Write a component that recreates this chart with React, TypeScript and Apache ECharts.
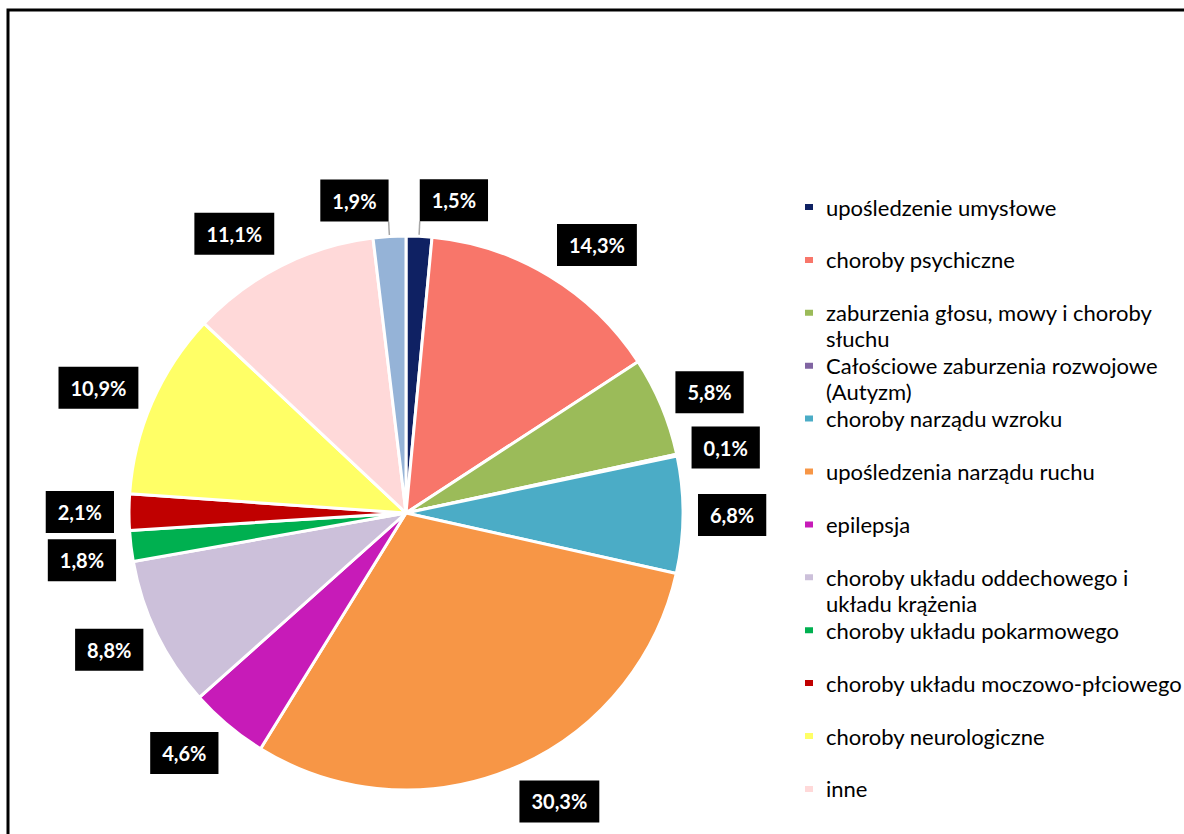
import React, { useEffect, useRef } from 'react';
import * as echarts from 'echarts';

// ---- data ----
const CATEGORIES = [
  'upośledzenie umysłowe',
  'choroby psychiczne',
  'zaburzenia głosu, mowy i choroby słuchu',
  'Całościowe zaburzenia rozwojowe (Autyzm)',
  'choroby narządu wzroku',
  'upośledzenia narządu ruchu',
  'epilepsja',
  'choroby układu oddechowego i układu krążenia',
  'choroby układu pokarmowego',
  'choroby układu moczowo-płciowego',
  'choroby neurologiczne',
  'inne',
  'nieustalone',
];
const VALUES = [1.5, 14.3, 5.8, 0.1, 6.8, 30.3, 4.6, 8.8, 1.8, 2.1, 10.9, 11.1, 1.9];
const LEGEND_ITEMS = CATEGORIES.slice(0, 12);
const LEGEND_WRAPPED: Record<string, string[]> = {
  'zaburzenia głosu, mowy i choroby słuchu': ['zaburzenia głosu, mowy i choroby', 'słuchu'],
  'Całościowe zaburzenia rozwojowe (Autyzm)': ['Całościowe zaburzenia rozwojowe', '(Autyzm)'],
  'choroby układu oddechowego i układu krążenia': ['choroby układu oddechowego i', 'układu krążenia'],
};

// ---- styles / layout ----
const COLORS = [
  '#0f2163', '#f8766a', '#9bbb59', '#8064a2', '#4bacc6', '#f79646',
  '#c71bb8', '#ccc0da', '#00b050', '#c00000', '#ffff66', '#ffd9d9', '#95b3d7',
];
const CX = 406;
const CY = 513;
const R = 277;
const GAP = 15;
const LABEL_NUDGE: Record<number, [number, number]> = { 8: [0, 10] };
const LEADER_IDX = [0, 12];
const LEGEND_LEFT = 803;
const LEGEND_FIRST_CY = 207;
const LEGEND_STEP = 52.9;
const LEGEND_LINE_H = 26;

function legendText(name: string): string {
  const w = LEGEND_WRAPPED[name];
  // a blank first line keeps the icon level with the first visible line
  return w ? '\n' + w.join('\n') : name;
}

export default function App() {
  const ref = useRef<HTMLDivElement>(null);
  useEffect(() => {
    if (!ref.current) return;
    const chart = echarts.init(ref.current, undefined, { renderer: 'svg' });
    const total = VALUES.reduce((a, b) => a + b, 0);
    const legends = LEGEND_ITEMS.map((name, k) => {
      const lines = legendText(name).split('\n').length;
      return {
        orient: 'vertical',
        left: LEGEND_LEFT,
        top: LEGEND_FIRST_CY + k * LEGEND_STEP - (lines * LEGEND_LINE_H) / 2,
        padding: 0,
        itemGap: 0,
        itemWidth: 10,
        itemHeight: 8,
        icon: 'rect',
        selectedMode: false,
        data: [name],
        formatter: (n: string) => legendText(n),
        textStyle: {
          fontFamily: 'Lato',
          fontSize: 22,
          color: '#000',
          lineHeight: LEGEND_LINE_H,
          padding: [0, 0, 0, 7],
        },
      };
    });
    const option: any = {
      animation: false,
      textStyle: { fontFamily: 'Lato' },
      graphic: [
        {
          type: 'rect',
          shape: { x: 8, y: 10, width: 1300, height: 1000 },
          style: { fill: 'none', stroke: '#000', lineWidth: 3 },
          silent: true,
        },
      ],
      legend: legends,
      series: [
        {
          type: 'pie',
          center: [CX, CY],
          radius: [0, R],
          startAngle: 90,
          clockwise: true,
          avoidLabelOverlap: false,
          silent: true,
          emphasis: { disabled: true },
          itemStyle: { borderColor: '#fff', borderWidth: 3 },
          label: {
            show: true,
            position: 'outside',
            formatter: (p: any) => VALUES[p.dataIndex].toFixed(1).replace('.', ',') + '%',
            backgroundColor: '#000',
            color: '#fff',
            fontFamily: 'Lato',
            fontWeight: 'bold',
            fontSize: 20,
            lineHeight: 24,
            padding: [10, 12, 8, 12],
          },
          labelLine: {
            show: false,
            length: 5,
            length2: 0,
            lineStyle: { color: '#a6a6a6', width: 1.5 },
          },
          labelLayout: (params: any) => {
            const i = params.dataIndex;
            let before = 0;
            for (let k = 0; k < i; k++) before += VALUES[k];
            const mid = ((before + VALUES[i] / 2) / total) * Math.PI * 2;
            const s = Math.sin(mid);
            const c = Math.cos(mid);
            const px = CX + (R + GAP) * s;
            const py = CY - (R + GAP) * c;
            const hw = params.labelRect.width / 2;
            const hh = params.labelRect.height / 2;
            const nud = LABEL_NUDGE[i] || [0, 0];
            return {
              x: px + hw * Math.sign(s) + nud[0],
              y: py - hh * c + nud[1],
              align: 'center',
              verticalAlign: 'middle',
              labelLinePoints: [
                [CX + R * s, CY - R * c],
                [px, py],
                [px, py],
              ],
            };
          },
          data: CATEGORIES.map((name, i) => ({
            name,
            value: VALUES[i],
            itemStyle: { color: COLORS[i] },
            labelLine: { show: LEADER_IDX.includes(i) },
          })),
        },
      ],
    };
    chart.setOption(option);
    return () => chart.dispose();
  }, []);
  return (
    <div
      ref={ref}
      style={{ position: 'absolute', left: 0, top: 0, width: 1184, height: 834, background: '#fff' }}
    />
  );
}
